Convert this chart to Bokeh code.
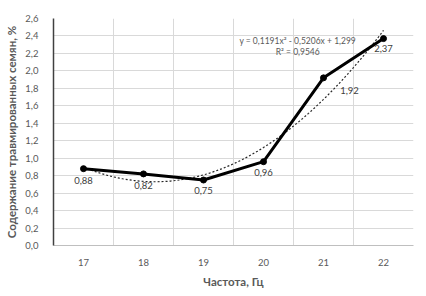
import numpy as np
from bokeh.plotting import figure
from bokeh.models import (FixedTicker, CustomJSTickFormatter, ColumnDataSource,
                          LabelSet, Label, Range1d)
from bokeh.core.properties import value
from bokeh.embed import file_html
from bokeh.resources import INLINE

# ---- data ----
freq = [17, 18, 19, 20, 21, 22]
damaged = [0.88, 0.82, 0.75, 0.96, 1.92, 2.37]
labels = ["0,88", "0,82", "0,75", "0,96", "1,92", "2,37"]
trend_coef = [0.1191, -0.5206, 1.299]   # y = a*x^2 + b*x + c, x = 1..6
r2_text = "R² = 0,9546"
eq_text = "y = 0,1191x² - 0,5206x + 1,299"
y_ticks = [0.0, 0.2, 0.4, 0.6, 0.8, 1.0, 1.2, 1.4, 1.6, 1.8, 2.0, 2.2, 2.4, 2.6]

FONT = "Lato"
GRAY = "#595959"

p = figure(width=426, height=296, output_backend="svg", toolbar_location=None,
           x_range=Range1d(16.5, 22.5), y_range=Range1d(0, 2.6),
           min_border_left=53, min_border_right=13, min_border_top=18,
           min_border_bottom=51)
p.outline_line_color = None
p.background_fill_color = "white"
p.border_fill_color = "white"

# axes
p.xaxis.ticker = FixedTicker(ticks=freq)
p.yaxis.ticker = FixedTicker(ticks=y_ticks)
p.yaxis.formatter = CustomJSTickFormatter(code="return tick.toFixed(1).replace('.', ',');")
for ax in (p.xaxis[0], p.yaxis[0]):
    ax.major_tick_line_color = None
    ax.minor_tick_line_color = None
    ax.major_label_text_font = FONT
    ax.major_label_text_font_size = "9.5px"
    ax.major_label_text_color = GRAY
    ax.axis_label_text_font = FONT
    ax.axis_label_text_font_size = "11.5px"
    ax.axis_label_text_font_style = "bold"
    ax.axis_label_text_color = GRAY
p.yaxis.axis_line_color = "#404040"
p.yaxis.axis_line_width = 1.5
p.xaxis.axis_line_color = "#bfbfbf"
p.yaxis.major_label_standoff = 9
p.xaxis.major_label_standoff = 7
p.xaxis.axis_label = "Частота, Гц"
p.yaxis.axis_label = "Содержание травмированных семян, %"
p.yaxis.axis_label_standoff = 4
p.xaxis.axis_label_standoff = 6

# grids
p.xgrid.ticker = FixedTicker(ticks=[17.5, 18.5, 19.5, 20.5, 21.5, 22.5])
p.xgrid.grid_line_color = "#d9d9d9"
p.ygrid.grid_line_color = "#d9d9d9"

# trendline from displayed coefficients
xs = np.linspace(1, 6, 101)
ys = trend_coef[0] * xs ** 2 + trend_coef[1] * xs + trend_coef[2]
p.line(xs + freq[0] - 1, ys, line_color="#262626", line_width=1.2,
       line_dash="2 2")

# data
src = ColumnDataSource(dict(x=freq, y=damaged, lab=labels,
                            dx=[0, 0, 0, 0, 26, 0], dy=[-8, -8, -7, -7, -9, -6]))
p.line("x", "y", source=src, line_color="black", line_width=3)
p.scatter("x", "y", source=src, size=6, color="black")
p.add_layout(LabelSet(x="x", y="y", text="lab", source=src, x_offset="dx",
                      y_offset="dy", text_align="center", text_baseline="top",
                      text_font=value(FONT), text_font_size="9.5px",
                      text_color="#404040"))

p.add_layout(Label(x=20.57, y=2.34, text=eq_text, text_align="center",
                   text_baseline="middle", text_font=FONT,
                   text_font_size="8.5px", text_color=GRAY))
p.add_layout(Label(x=20.57, y=2.215, text=r2_text, text_align="center",
                   text_baseline="middle", text_font=FONT,
                   text_font_size="8.5px", text_color=GRAY))

open("out.html", "w").write(file_html(p, INLINE))
